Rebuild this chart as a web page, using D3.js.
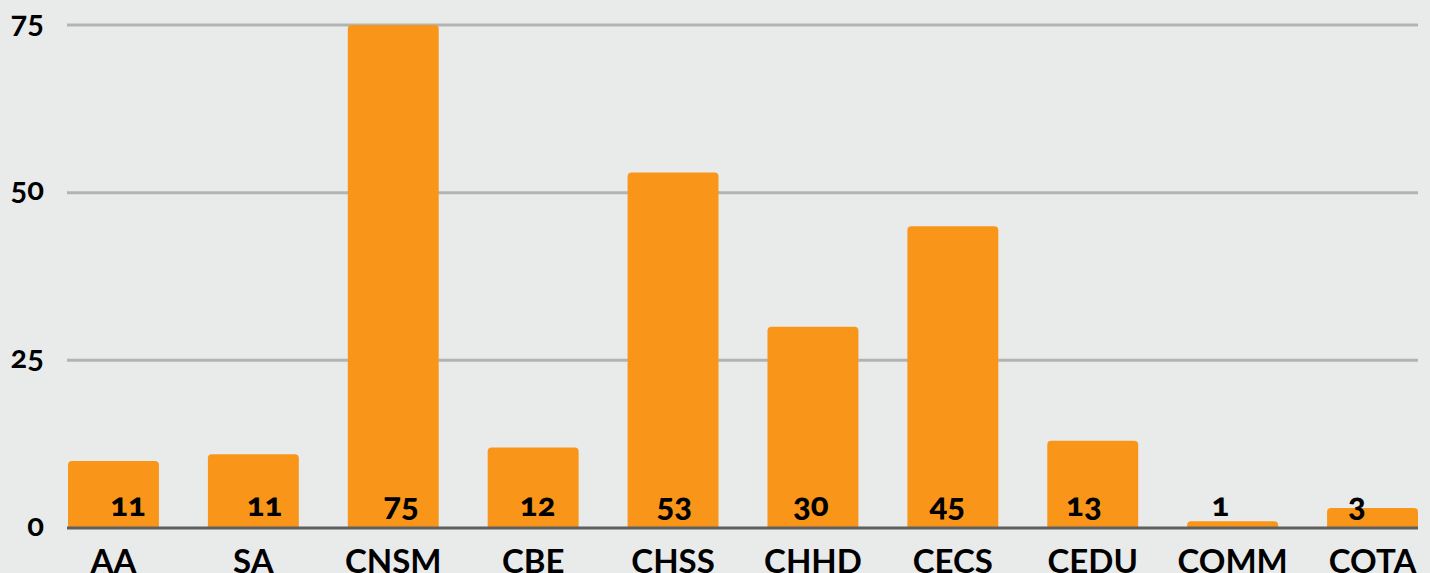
<!DOCTYPE html>
<html>
<head>
<meta charset="utf-8">
<script src="https://cdn.jsdelivr.net/npm/d3@7"></script>
<style>
  html, body { margin: 0; padding: 0; background: #e9ebea; }
  svg { display: block; }
  text { font-family: Lato, "Open Sans", sans-serif; font-weight: 700; fill: #000; font-variant-numeric: oldstyle-nums; }
</style>
</head>
<body>
<script>
const categories = ['AA', 'SA', 'CNSM', 'CBE', 'CHSS', 'CHHD', 'CECS', 'CEDU', 'COMM', 'COTA'];
const values = [10, 11, 75, 12, 53, 30, 45, 13, 1, 3];
const dataLabels = ['11', '11', '75', '12', '53', '30', '45', '13', '1', '3'];
const yTicks = [0, 25, 50, 75];

const width = 1430;
const height = 573;

const svg = d3.select('body').append('svg')
  .attr('width', width)
  .attr('height', height);

const x = d3.scaleBand()
  .domain(categories)
  .range([68, 1418])
  .paddingInner(0.35)
  .paddingOuter(0);

// labels sit on a slightly narrower spread than the bars
const xLabel = d3.scalePoint()
  .domain(categories)
  .range([128, 1357]);

const y = d3.scaleLinear()
  .domain([0, 75])
  .range([528, 25]);

// gridlines
svg.append('g')
  .selectAll('line')
  .data(yTicks.filter((d) => d > 0))
  .enter().append('line')
  .attr('x1', 67)
  .attr('x2', 1418)
  .attr('y1', (d) => y(d))
  .attr('y2', (d) => y(d))
  .attr('stroke', '#b3b3b3')
  .attr('stroke-width', 3);

// y tick labels
svg.append('g')
  .selectAll('text')
  .data(yTicks)
  .enter().append('text')
  .attr('x', 44)
  .attr('y', (d) => y(d))
  .attr('dy', '0.25em')
  .attr('text-anchor', 'end')
  .style('font-size', '31px')
  .text((d) => d);

const r = 4;
const barPath = (d, i) => {
  const x0 = x(categories[i]);
  const x1 = x0 + x.bandwidth();
  const y0 = y(0);
  const y1 = y(d);
  const rr = Math.min(r, (y0 - y1));
  return `M${x0},${y0}V${y1 + rr}Q${x0},${y1} ${x0 + rr},${y1}H${x1 - rr}Q${x1},${y1} ${x1},${y1 + rr}V${y0}Z`;
};

svg.append('g')
  .selectAll('path')
  .data(values)
  .enter().append('path')
  .attr('d', barPath)
  .attr('fill', '#f9961a');

// baseline
svg.append('line')
  .attr('x1', 67)
  .attr('x2', 1418)
  .attr('y1', y(0))
  .attr('y2', y(0))
  .attr('stroke', '#5f5f5f')
  .attr('stroke-width', 3);

// data labels
svg.append('g')
  .selectAll('text')
  .data(dataLabels)
  .enter().append('text')
  .attr('x', (d, i) => xLabel(categories[i]))
  .attr('y', 516)
  .attr('text-anchor', 'middle')
  .style('font-size', '33px')
  .style('font-weight', 900)
  .text((d) => d);

// category labels
svg.append('g')
  .selectAll('text')
  .data(categories)
  .enter().append('text')
  .attr('x', (d) => x(d) + x.bandwidth() / 2)
  .attr('y', 573)
  .attr('text-anchor', 'middle')
  .style('font-size', '33px')
  .text((d) => d);
</script>
</body>
</html>
